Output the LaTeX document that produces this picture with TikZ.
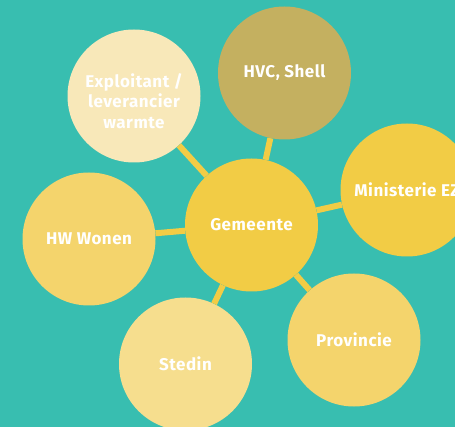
\documentclass[tikz,border=0pt]{standalone}
\usepackage{fontspec}
\setmainfont{Fira Sans}[LetterSpace=3]
\definecolor{bgteal}{HTML}{38BEB0}
\definecolor{gemyellow}{HTML}{F2CC45}
\definecolor{hvcolive}{HTML}{C4B060}
\definecolor{paleyellow}{HTML}{F8E8B9}
\definecolor{softyellow}{HTML}{F4D46C}
\definecolor{lightyellow}{HTML}{F6DE8E}
\tikzset{
  actor/.style={circle, minimum size=133pt, inner sep=0pt, text=white,
    font=\fontsize{17}{20.5}\selectfont\bfseries, align=center},
  tie/.style={gemyellow, line width=6pt}
}
\begin{document}
\begin{tikzpicture}[x=1pt,y=-1pt]
  \clip (0,0) rectangle (455,427);
  \fill[bgteal] (0,0) rectangle (455,427);

  % Circles
  \node[actor, fill=gemyellow] (gem) at (251.5,225) {Gemeente};
  \node[actor, fill=paleyellow, text height=65pt] (expl) at (134,96) {Exploitant /\\leverancier\\warmte};
  \node[actor, fill=hvcolive] (hvc) at (284.5,73) {HVC, Shell};
  \node[actor, fill=gemyellow] (min) at (407,190) {Ministerie EZ};
  \node[actor, fill=softyellow] (hw) at (89,239) {HW Wonen};
  \node[actor, fill=lightyellow] (sted) at (185.5,364) {Stedin};
  \node[actor, fill=softyellow] (prov) at (354,340) {Provincie};

  % Ties
  \foreach \other in {expl,hvc,min,hw,sted,prov}
    \draw[tie] (gem) -- (\other);
\end{tikzpicture}
\end{document}
